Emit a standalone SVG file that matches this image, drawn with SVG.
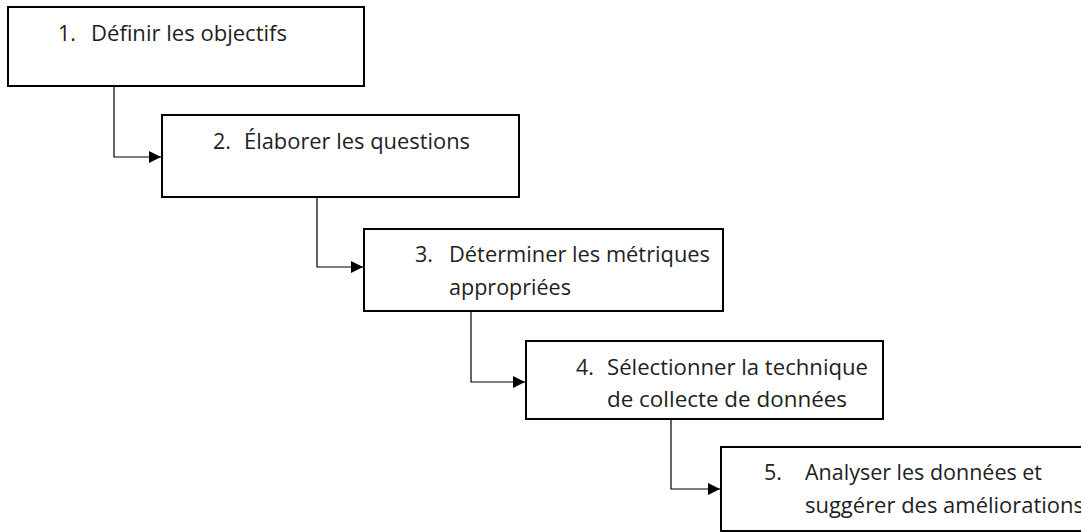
<svg xmlns="http://www.w3.org/2000/svg" width="1081" height="532" viewBox="0 0 1081 532">
  <style>
    .box { fill: #ffffff; stroke: #000000; stroke-width: 2; }
    .link { fill: none; stroke: #000000; stroke-width: 1.2; marker-end: url(#arrow); }
    text { font-family: "Open Sans", "Noto Sans", sans-serif; font-size: 21.5px; fill: #1e1e1e; }
  </style>
  <defs>
    <marker id="arrow" viewBox="0 0 12 12" refX="12" refY="6" markerWidth="12" markerHeight="12" markerUnits="userSpaceOnUse" orient="auto">
      <path d="M0,0 L12,6 L0,12 Z" fill="#000000"/>
    </marker>
  </defs>
  <rect width="1081" height="532" fill="#ffffff"/>

  <g id="connectors">
    <path class="link" d="M114,86 V157 H161"/>
    <path class="link" d="M317,197 V267 H363"/>
    <path class="link" d="M471,311 V382 H525"/>
    <path class="link" d="M671,419 V489 H720"/>
  </g>

  <g id="step1">
    <rect class="box" x="8" y="7" width="356" height="79"/>
    <text x="58" y="41">1.</text>
    <text x="91" y="41" textLength="196" lengthAdjust="spacingAndGlyphs">Définir les objectifs</text>
  </g>

  <g id="step2">
    <rect class="box" x="162" y="115" width="357" height="82"/>
    <text x="213" y="149">2.</text>
    <text x="244" y="149" textLength="226" lengthAdjust="spacingAndGlyphs">Élaborer les questions</text>
  </g>

  <g id="step3">
    <rect class="box" x="364" y="229" width="359" height="82"/>
    <text x="415" y="262">3.</text>
    <text x="449" y="262" textLength="261" lengthAdjust="spacingAndGlyphs">Déterminer les métriques</text>
    <text x="449" y="295" textLength="122" lengthAdjust="spacingAndGlyphs">appropriées</text>
  </g>

  <g id="step4">
    <rect class="box" x="526" y="341" width="357" height="78"/>
    <text x="576" y="375">4.</text>
    <text x="607" y="375" textLength="261" lengthAdjust="spacingAndGlyphs">Sélectionner la technique</text>
    <text x="607" y="407" textLength="240" lengthAdjust="spacingAndGlyphs">de collecte de données</text>
  </g>

  <g id="step5">
    <rect class="box" x="721" y="447" width="380" height="84"/>
    <text x="764" y="480">5.</text>
    <text x="805" y="480" textLength="237" lengthAdjust="spacingAndGlyphs">Analyser les données et</text>
    <text x="805" y="513" textLength="279" lengthAdjust="spacingAndGlyphs">suggérer des améliorations</text>
  </g>
</svg>
